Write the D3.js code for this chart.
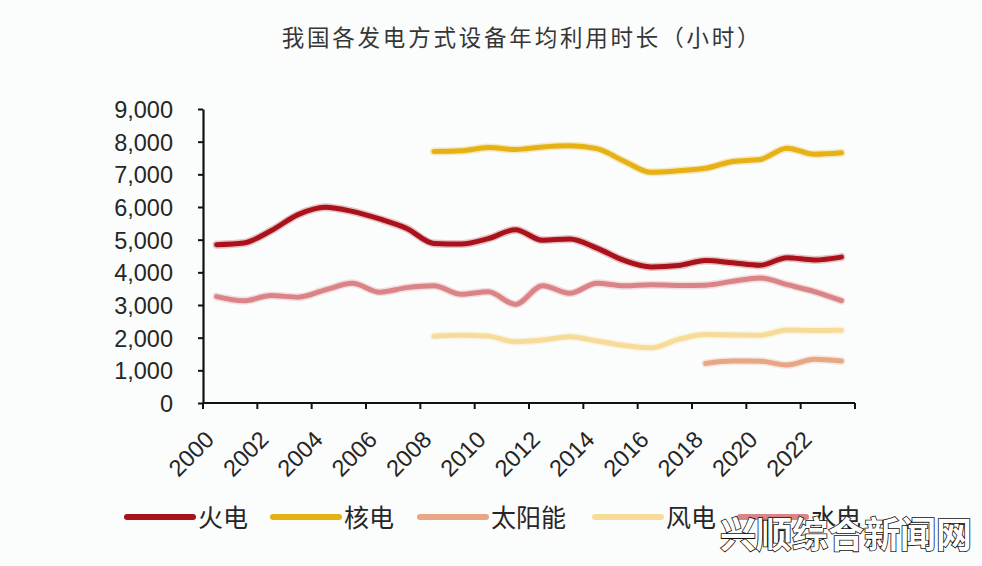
<!DOCTYPE html>
<html><head><meta charset="utf-8">
<script src="https://cdn.jsdelivr.net/npm/d3@7"></script>
<style>
html,body{margin:0;padding:0;background:#fbfcfc;}
svg{display:block;}
</style></head>
<body>
<svg id="chart" width="982" height="566"></svg>
<script>
const title = "我国各发电方式设备年均利用时长（小时）";
const years = d3.range(2000, 2024);
const yTicks = [0,1000,2000,3000,4000,5000,6000,7000,8000,9000];
const seriesNames = ["火电","核电","太阳能","风电","水电"];
const seriesColors = ["#a9121b","#e6b115","#e8a784","#f6dc98","#da8487"];
// values per year (null = no data)
const thermal = [4848,4900,5272,5767,5991,5865,5633,5344,4885,4865,5031,5305,4982,5021,4739,4364,4165,4209,4361,4293,4216,4448,4379,4466];
const nuclear = [null,null,null,null,null,null,null,null,7700,7720,7820,7759,7840,7874,7787,7403,7060,7108,7184,7394,7453,7802,7616,7661];
const solar   = [null,null,null,null,null,null,null,null,null,null,null,null,null,null,null,null,null,null,1212,1285,1281,1163,1337,1286];
const wind    = [null,null,null,null,null,null,null,null,2046,2077,2047,1875,1929,2025,1900,1760,1690,1948,2095,2082,2073,2232,2221,2225];
const hydro   = [3258,3129,3289,3239,3462,3664,3393,3532,3589,3328,3404,3019,3591,3359,3669,3590,3621,3597,3607,3726,3827,3622,3412,3133];
const seriesData = [thermal, nuclear, solar, wind, hydro];
const drawOrder = [4,3,2,0,1];

const svg = d3.select("#chart");
const plotLeft = 203, plotRight = 855, plotTop = 109, plotBottom = 403;

const x = d3.scaleBand().domain(years).range([plotLeft, plotRight]).paddingInner(0).paddingOuter(0);
const y = d3.scaleLinear().domain([0, 9000]).range([plotBottom, plotTop]);

// title
svg.append("text").attr("x", 522).attr("y", 46).attr("text-anchor","middle")
  .attr("font-family","'Noto Sans CJK SC', sans-serif").attr("font-size",22.5)
  .attr("letter-spacing","2.8px").attr("fill","#363636").text(title);

// y axis
const yAxis = d3.axisLeft(y).tickValues(yTicks).tickFormat(d3.format(",")).tickSize(5).tickSizeOuter(0);
const gy = svg.append("g").attr("transform",`translate(${plotLeft},0)`).call(yAxis);
gy.select(".domain").attr("stroke","#111").attr("stroke-width",2.2);
gy.selectAll(".tick line").attr("stroke","#111").attr("stroke-width",2);
gy.selectAll(".tick text").attr("x",-30).attr("dy","0.36em")
  .attr("font-family","'Liberation Sans', Arial, sans-serif").attr("font-size",23.5).attr("fill","#262626");

// x axis: ticks at band boundaries every 2 categories
const bw = x.bandwidth();
const tickYears = years.filter(d => (d - 2000) % 2 === 0);
const gx = svg.append("g");
gx.append("line").attr("x1", plotLeft).attr("x2", plotRight).attr("y1", plotBottom).attr("y2", plotBottom)
  .attr("stroke","#111").attr("stroke-width",2.2);
const tickPos = tickYears.map(d => x(d)).concat([x(years[years.length-1]) + bw]);
gx.selectAll("line.tk").data(tickPos).join("line").attr("class","tk")
  .attr("x1", d=>d).attr("x2", d=>d).attr("y1", plotBottom).attr("y2", plotBottom+6)
  .attr("stroke","#111").attr("stroke-width",2);
gx.selectAll("text.xl").data(tickYears).join("text").attr("class","xl")
  .attr("transform", d => `translate(${x(d) + bw/2 - 1},${plotBottom + 38}) rotate(-45)`)
  .attr("text-anchor","end")
  .attr("font-family","'Liberation Sans', Arial, sans-serif").attr("font-size",23.5).attr("fill","#262626")
  .text(d => d);

// lines
const line = d3.line()
  .defined(d => d.v != null)
  .x(d => x(d.year) + bw/2)
  .y(d => y(d.v))
  .curve(d3.curveMonotoneX);

drawOrder.forEach(i => {
  const data = years.map((yr, k) => ({year: yr, v: seriesData[i][k]}));
  svg.append("path").datum(data).attr("d", line)
    .attr("fill","none").attr("stroke", seriesColors[i]).attr("stroke-opacity",0.25)
    .attr("stroke-width",8).attr("stroke-linecap","round").attr("stroke-linejoin","round");
  svg.append("path").datum(data).attr("d", line)
    .attr("fill","none").attr("stroke", seriesColors[i])
    .attr("stroke-width",5).attr("stroke-linecap","round").attr("stroke-linejoin","round");
});

// legend
const legendX = [127, 273, 420, 595, 740];
const lg = svg.append("g");
seriesNames.forEach((name, i) => {
  const g = lg.append("g").attr("transform", `translate(${legendX[i]},517)`);
  g.append("line").attr("x1",0).attr("x2",66).attr("y1",0).attr("y2",0)
    .attr("stroke", seriesColors[i]).attr("stroke-width",6).attr("stroke-linecap","round");
  g.append("text").attr("x",71).attr("y",0).attr("dy","0.38em")
    .attr("font-family","'Noto Sans CJK SC', sans-serif").attr("font-size",25)
    .attr("fill","#262626").text(name);
});

// watermark (overlaps the last legend entry, as in the reference)
svg.append("text").attr("x", 846).attr("y", 548).attr("text-anchor","middle")
  .attr("font-family","'Noto Sans CJK SC', sans-serif").attr("font-size",36).attr("font-weight","bold")
  .attr("fill","#ffffff").attr("stroke","#111").attr("stroke-width",1.6)
  .attr("paint-order","stroke").text("兴顺综合新闻网");
</script>
</body></html>
